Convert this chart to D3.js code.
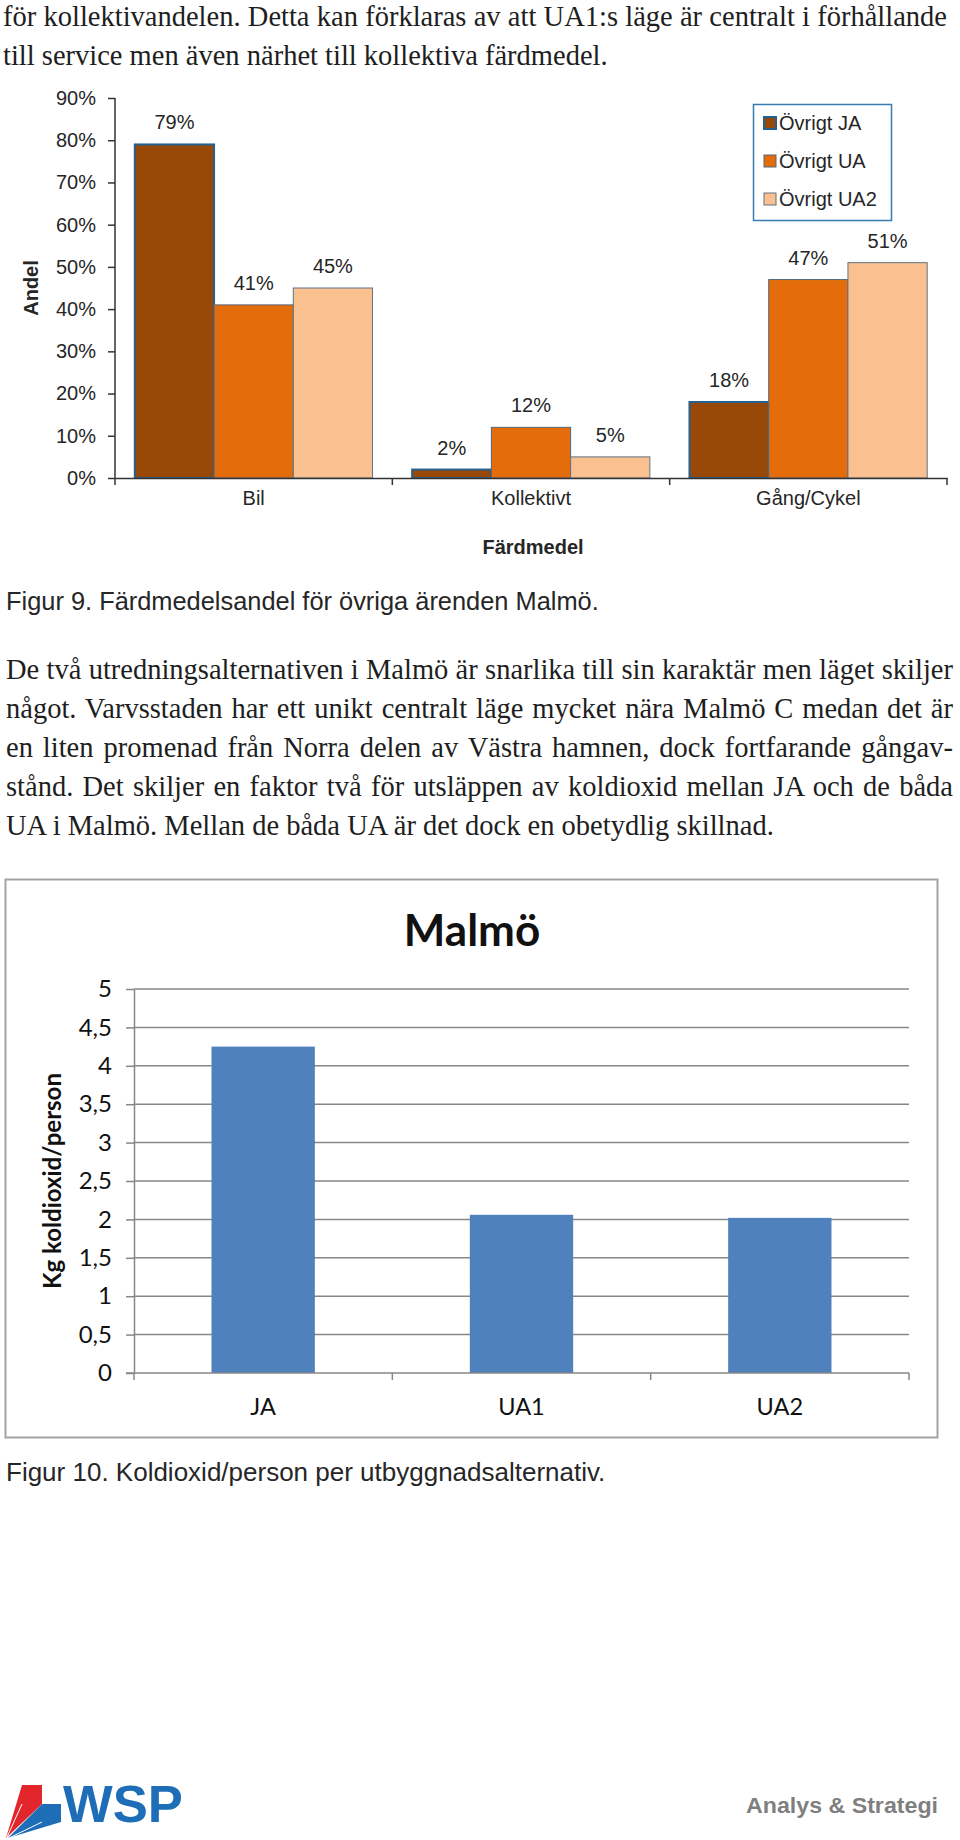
<!DOCTYPE html>
<html>
<head>
<meta charset="utf-8">
<script src="https://cdn.jsdelivr.net/npm/d3@7"></script>
<style>
  body { margin: 0; background: #fff; }
  svg { display: block; }
  .body { font-family: "Liberation Serif", "Times New Roman", serif; font-size: 28.5px; fill: #1e1e1e; }
  .arial { font-family: "Liberation Sans", Arial, sans-serif; fill: #262626; }
  .cal { font-family: Lato, "Open Sans", sans-serif; fill: #111; }
</style>
</head>
<body>
<svg id="page" width="960" height="1840"></svg>
<script>
// page text
const introLines = [
  'för kollektivandelen. Detta kan förklaras av att UA1:s läge är centralt i förhållande',
  'till service men även närhet till kollektiva färdmedel.'
];
const paraLines = [
  'De två utredningsalternativen i Malmö är snarlika till sin karaktär men läget skiljer',
  'något. Varvsstaden har ett unikt centralt läge mycket nära Malmö C medan det är',
  'en liten promenad från Norra delen av Västra hamnen, dock fortfarande gångav-',
  'stånd. Det skiljer en faktor två för utsläppen av koldioxid mellan JA och de båda',
  'UA i Malmö. Mellan de båda UA är det dock en obetydlig skillnad.'
];

// figur 9 - färdmedelsandel
const modes = ['Bil', 'Kollektivt', 'Gång/Cykel'];
const modeSeries = ['Övrigt JA', 'Övrigt UA', 'Övrigt UA2'];
const shareJA = [79, 2, 18];
const shareUA = [41, 12, 47];
const shareUA2 = [45, 5, 51];
const shareTicks = [0, 10, 20, 30, 40, 50, 60, 70, 80, 90];

// figur 10 - koldioxid per person
const alternatives = ['JA', 'UA1', 'UA2'];
const co2PerPerson = [4.25, 2.06, 2.02];
const co2Ticks = [0, 0.5, 1, 1.5, 2, 2.5, 3, 3.5, 4, 4.5, 5];

const svg = d3.select('#page');
svg.append('rect').attr('width', 960).attr('height', 1840).attr('fill', '#fff');

// justified paragraph: last line left as is, the others stretched by word spacing
function textBlock(lines, x, y0, lh, right) {
  lines.forEach((t, i) => {
    const el = svg.append('text').attr('class', 'body')
      .attr('x', x).attr('y', y0 + i * lh).text(t);
    if (i < lines.length - 1) {
      const natural = el.node().getComputedTextLength();
      const gaps = t.split(' ').length - 1;
      const extra = (right - x) - natural;
      if (extra >= 0) el.attr('word-spacing', extra / gaps);
      else el.attr('textLength', right - x).attr('lengthAdjust', 'spacingAndGlyphs');
    }
  });
}

textBlock(introLines, 3, 26, 39, 947);

// ---------- chart 1 ----------
const seriesFill = ['#984807', '#e46c0a', '#fac090'];
const seriesStroke = ['#24618f', '#56677a', '#5f7385'];
const seriesStrokeW = [2, 1, 1];

const x0 = d3.scaleBand().domain(modes).range([115, 947]).paddingInner(0).paddingOuter(0);
const x1 = d3.scaleBand().domain(modeSeries).range([0, x0.bandwidth()]).paddingInner(0).paddingOuter(0.25);
const y1 = d3.scaleLinear().domain([0, 90]).range([478, 98]);

const rows = modes.map((m, i) => ({ mode: m, values: [shareJA[i], shareUA[i], shareUA2[i]] }));

const g1 = svg.append('g');

const groups = g1.selectAll('g.grp')
  .data(rows)
  .join('g')
  .attr('class', 'grp')
  .attr('transform', d => `translate(${x0(d.mode)},0)`);

groups.selectAll('rect')
  .data(d => d.values.map((v, j) => ({ s: modeSeries[j], v: v, j: j })))
  .join('rect')
  .attr('x', d => x1(d.s))
  .attr('y', d => y1(d.v))
  .attr('width', x1.bandwidth())
  .attr('height', d => y1(0) - y1(d.v))
  .attr('fill', d => seriesFill[d.j])
  .attr('stroke', d => seriesStroke[d.j])
  .attr('stroke-width', d => seriesStrokeW[d.j]);

groups.selectAll('text.val')
  .data(d => d.values.map((v, j) => ({ s: modeSeries[j], v: v })))
  .join('text')
  .attr('class', 'val arial')
  .attr('x', d => x1(d.s) + x1.bandwidth() / 2)
  .attr('y', d => y1(d.v) - 15)
  .attr('text-anchor', 'middle')
  .style('font-size', '20px')
  .text(d => d.v + '%');

// y axis
const yAx = g1.append('g')
  .attr('transform', 'translate(115,0)')
  .call(d3.axisLeft(y1).tickValues(shareTicks).tickFormat(d => d + '%').tickSize(7).tickSizeOuter(0).tickPadding(12));
yAx.select('.domain').attr('stroke', '#333').attr('stroke-width', 1.5).attr('d', 'M0,98V485');
yAx.selectAll('.tick line').attr('stroke', '#333').attr('stroke-width', 1.5);
yAx.selectAll('.tick text').attr('class', 'arial').style('font-size', '20px').attr('fill', '#262626');

// x axis: labels at group centres, ticks on group boundaries
const xAx = g1.append('g')
  .attr('transform', 'translate(0,478)')
  .call(d3.axisBottom(x0).tickSize(0).tickPadding(13));
xAx.select('.domain').attr('stroke', '#333').attr('stroke-width', 1.5);
xAx.selectAll('.tick text').attr('class', 'arial').style('font-size', '20px').attr('fill', '#262626');
g1.append('g').selectAll('line')
  .data(modes)
  .join('line')
  .attr('x1', d => x0(d) + x0.step())
  .attr('x2', d => x0(d) + x0.step())
  .attr('y1', 478).attr('y2', 485)
  .attr('stroke', '#333').attr('stroke-width', 1.5);

g1.append('text').attr('class', 'arial')
  .attr('transform', 'translate(38,288) rotate(-90)')
  .attr('text-anchor', 'middle')
  .style('font-size', '20px').style('font-weight', 'bold')
  .text('Andel');

g1.append('text').attr('class', 'arial')
  .attr('x', 533).attr('y', 554)
  .attr('text-anchor', 'middle')
  .style('font-size', '20px').style('font-weight', 'bold')
  .text('Färdmedel');

// legend
const lg = g1.append('g').attr('transform', 'translate(753,104)');
lg.append('rect').attr('x', 0.5).attr('y', 0.5).attr('width', 138).attr('height', 116)
  .attr('fill', '#fff').attr('stroke', '#3a7bb0').attr('stroke-width', 1.5);
const li = lg.selectAll('g.li')
  .data(modeSeries)
  .join('g')
  .attr('class', 'li')
  .attr('transform', (d, i) => `translate(0,${19 + i * 38})`);
li.append('rect')
  .attr('x', 11).attr('y', -6).attr('width', 12).attr('height', 12)
  .attr('fill', (d, i) => seriesFill[i])
  .attr('stroke', (d, i) => seriesStroke[i])
  .attr('stroke-width', (d, i) => seriesStrokeW[i]);
li.append('text').attr('class', 'arial')
  .attr('x', 26).attr('y', 7)
  .style('font-size', '20px')
  .text(d => d);

svg.append('text').attr('class', 'arial')
  .attr('x', 6).attr('y', 610)
  .style('font-size', '25.4px').attr('fill', '#1a1a1a')
  .text('Figur 9. Färdmedelsandel för övriga ärenden Malmö.');

textBlock(paraLines, 6, 679, 39, 953);

// ---------- chart 2 ----------
const g2 = svg.append('g');
g2.append('rect').attr('x', 5.5).attr('y', 879.5).attr('width', 932).attr('height', 558)
  .attr('fill', '#fff').attr('stroke', '#a3a3a3').attr('stroke-width', 2);

g2.append('text').attr('class', 'cal')
  .attr('x', 472).attr('y', 946)
  .attr('text-anchor', 'middle')
  .style('font-size', '44px').style('font-weight', 'bold')
  .text('Malmö');

const xb = d3.scaleBand().domain(alternatives).range([134, 909]).paddingInner(0.6).paddingOuter(0.3);
const yb = d3.scaleLinear().domain([0, 5]).range([1373, 989]);

g2.append('g').selectAll('line')
  .data(co2Ticks.filter(d => d > 0))
  .join('line')
  .attr('x1', 134).attr('x2', 909)
  .attr('y1', d => yb(d)).attr('y2', d => yb(d))
  .attr('stroke', '#878787').attr('stroke-width', 1.5);

g2.append('g').selectAll('rect')
  .data(alternatives.map((a, i) => ({ a: a, v: co2PerPerson[i] })))
  .join('rect')
  .attr('x', d => xb(d.a))
  .attr('y', d => yb(d.v))
  .attr('width', xb.bandwidth())
  .attr('height', d => yb(0) - yb(d.v))
  .attr('fill', '#4f81bd');

const yAx2 = g2.append('g')
  .attr('transform', 'translate(134,0)')
  .call(d3.axisLeft(yb).tickValues(co2Ticks).tickFormat(d => String(d).replace('.', ',')).tickSize(8).tickSizeOuter(0).tickPadding(14));
yAx2.select('.domain').attr('stroke', '#878787').attr('stroke-width', 1.5);
yAx2.selectAll('.tick line').attr('stroke', '#878787').attr('stroke-width', 1.5);
yAx2.selectAll('.tick text').attr('class', 'cal').style('font-size', '24px').attr('fill', '#111');

const xAx2 = g2.append('g')
  .attr('transform', 'translate(0,1373)')
  .call(d3.axisBottom(xb).tickSize(0).tickPadding(25));
xAx2.select('.domain').attr('stroke', '#878787').attr('stroke-width', 1.5).attr('d', 'M126,0H909');
xAx2.selectAll('.tick text').attr('class', 'cal').style('font-size', '23.5px').attr('fill', '#111');
g2.append('g').selectAll('line')
  .data([134].concat(alternatives.map(a => xb(a) - xb.step() * xb.paddingInner() / 2 + xb.step())))
  .join('line')
  .attr('x1', d => d).attr('x2', d => d)
  .attr('y1', 1373).attr('y2', 1380)
  .attr('stroke', '#878787').attr('stroke-width', 1.5);

g2.append('text').attr('class', 'cal')
  .attr('transform', 'translate(61,1181) rotate(-90)')
  .attr('text-anchor', 'middle')
  .style('font-size', '24px').style('font-weight', 'bold')
  .text('Kg koldioxid/person');

svg.append('text').attr('class', 'arial')
  .attr('x', 6).attr('y', 1481)
  .style('font-size', '26px').attr('fill', '#1a1a1a')
  .text('Figur 10. Koldioxid/person per utbyggnadsalternativ.');

// ---------- footer ----------
const logo = svg.append('g');
logo.append('polygon').attr('points', '22,1785 6,1838 42,1804 22,1804').attr('fill', '#e2262b');
logo.append('rect').attr('x', 22).attr('y', 1785).attr('width', 20).attr('height', 19).attr('fill', '#e2262b');
logo.append('polygon').attr('points', '42,1804 8,1838 61,1822 42,1822').attr('fill', '#1d6db7');
logo.append('rect').attr('x', 42).attr('y', 1804).attr('width', 19).attr('height', 18).attr('fill', '#1d6db7');
logo.append('line').attr('x1', 22).attr('y1', 1804).attr('x2', 7).attr('y2', 1837).attr('stroke', '#fff').attr('stroke-width', 1);
logo.append('line').attr('x1', 42).attr('y1', 1822).attr('x2', 9).attr('y2', 1838).attr('stroke', '#fff').attr('stroke-width', 1);
logo.append('text')
  .attr('x', 63).attr('y', 1822)
  .attr('textLength', 120).attr('lengthAdjust', 'spacingAndGlyphs')
  .style('font-family', '"Liberation Sans", Arial, sans-serif')
  .style('font-size', '52px').style('font-weight', 'bold')
  .attr('fill', '#1d6db7')
  .text('WSP');

svg.append('text')
  .attr('x', 746).attr('y', 1813)
  .attr('textLength', 192).attr('lengthAdjust', 'spacingAndGlyphs')
  .style('font-family', '"Liberation Sans Narrow", "Liberation Sans", Arial, sans-serif')
  .style('font-size', '22px').style('font-weight', 'bold')
  .attr('fill', '#7f7f7f')
  .text('Analys & Strategi');
</script>
</body>
</html>
